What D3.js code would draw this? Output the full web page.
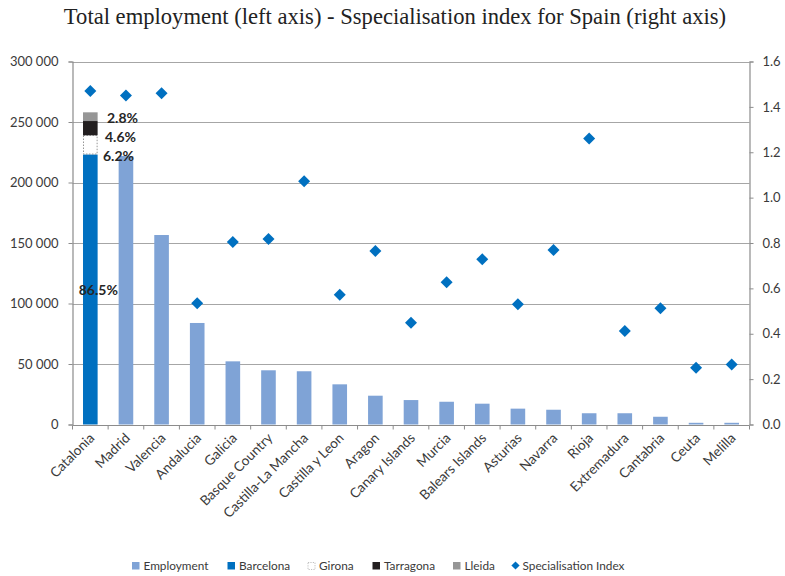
<!DOCTYPE html>
<html>
<head>
<meta charset="utf-8">
<script src="https://cdn.jsdelivr.net/npm/d3@7"></script>
<style>
  html, body { margin: 0; padding: 0; background: #fff; }
  svg { display: block; }
  text { font-family: Lato, "Open Sans", sans-serif; }
</style>
</head>
<body>
<div id="chart"></div>
<script>
// Regions of Spain, ordered by total employment
const regions = ["Catalonia", "Madrid", "Valencia", "Andalucia", "Galicia", "Basque Country",
  "Castilla-La Mancha", "Castilla y Leon", "Aragon", "Canary Islands", "Murcia", "Balears Islands",
  "Asturias", "Navarra", "Rioja", "Extremadura", "Cantabria", "Ceuta", "Melilla"];

// Total employment per region (Catalonia is split into its provinces below)
const employment = [0, 221900, 156600, 83900, 52200, 44800, 44000, 33200, 23800, 20200,
  18800, 17200, 13100, 12200, 9300, 9300, 6400, 1400, 1400];

// Catalonia employment by province
const provinces = ["Barcelona", "Girona", "Tarragona", "Lleida"];
const provinceEmployment = [223100, 15900, 11800, 7200];

// Specialisation index (right axis)
const specialisation = [1.47, 1.45, 1.46, 0.534, 0.804, 0.818, 1.072, 0.572, 0.765, 0.449,
  0.627, 0.728, 0.530, 0.769, 1.261, 0.412, 0.512, 0.250, 0.265];

// Axis ticks
const leftTicks = [0, 50000, 100000, 150000, 200000, 250000, 300000];
const rightTicks = [0, 0.2, 0.4, 0.6, 0.8, 1.0, 1.2, 1.4, 1.6];

const W = 785, H = 576;
const m = { left: 72.5, right: 749.5, top: 61.5, bottom: 424.5 };

const colors = {
  Employment: "#7fa3d6",
  Barcelona: "#0070c0",
  Girona: "#ffffff",
  Tarragona: "#231f20",
  Lleida: "#969696",
  index: "#0070c0"
};

const svg = d3.select("#chart").append("svg").attr("width", W).attr("height", H);

// Title
svg.append("text")
  .attr("x", 395).attr("y", 24)
  .attr("text-anchor", "middle")
  .style("font-family", "'Liberation Serif', 'Times New Roman', serif")
  .style("font-size", "22.6px")
  .attr("fill", "#222")
  .text("Total employment (left axis) - Sspecialisation index for Spain (right axis)");

const x = d3.scaleBand().domain(regions).range([m.left, m.right]).padding(0);
const yL = d3.scaleLinear().domain([0, 300000]).range([m.bottom, m.top]);
const yR = d3.scaleLinear().domain([0, 1.6]).range([m.bottom, m.top]);
const barW = x.bandwidth() * 0.41;

// Horizontal gridlines
svg.append("g").selectAll("line").data(leftTicks.filter(d => d > 0)).join("line")
  .attr("x1", m.left).attr("x2", m.right)
  .attr("y1", d => Math.round(yL(d)) + 0.5).attr("y2", d => Math.round(yL(d)) + 0.5)
  .attr("stroke", "#a6a6a6").attr("stroke-width", 1.2);

// Left axis
const fmtSpace = d => d3.format(",")(d).replace(/,/g, " ");
const axL = svg.append("g").attr("transform", `translate(${m.left},0)`)
  .call(d3.axisLeft(yL).tickValues(leftTicks).tickSize(4).tickPadding(10).tickFormat(fmtSpace));

// Right axis
const axR = svg.append("g").attr("transform", `translate(${m.right},0)`)
  .call(d3.axisRight(yR).tickValues(rightTicks).tickSize(4).tickPadding(9).tickFormat(d3.format(".1f")));

[axL, axR].forEach(g => {
  g.select(".domain").attr("stroke", "#8c8c8c").attr("stroke-width", 1.2);
  g.selectAll(".tick line").attr("stroke", "#8c8c8c");
  g.selectAll(".tick text").attr("fill", "#3a3a3a").style("font-size", "13px")
    .style("font-family", "Lato, sans-serif");
});

// Bottom axis: baseline with ticks at band boundaries
const baseY = Math.round(m.bottom) + 0.5;
svg.append("line").attr("x1", m.left).attr("x2", m.right)
  .attr("y1", baseY).attr("y2", baseY).attr("stroke", "#8c8c8c").attr("stroke-width", 1.2);
const bounds = regions.map(r => x(r)).concat([m.right]);
svg.append("g").selectAll("line").data(bounds).join("line")
  .attr("x1", d => d).attr("x2", d => d)
  .attr("y1", baseY).attr("y2", baseY + 4)
  .attr("stroke", "#8c8c8c");

// Category labels, rotated
svg.append("g").selectAll("text").data(regions).join("text")
  .attr("transform", d => `translate(${x(d) + x.bandwidth() / 2 + 1.5},${baseY + 10}) rotate(-45)`)
  .attr("text-anchor", "end")
  .attr("dy", "0.35em")
  .attr("fill", "#3a3a3a")
  .style("font-size", "13.6px")
  .text(d => d);

// Employment bars
svg.append("g").selectAll("rect").data(regions.map((r, i) => ({ r, v: employment[i] })).filter(d => d.v > 0))
  .join("rect")
  .attr("x", d => x(d.r) + x.bandwidth() / 2 - barW / 2)
  .attr("width", barW)
  .attr("y", d => yL(d.v))
  .attr("height", d => yL(0) - yL(d.v))
  .attr("fill", colors.Employment);

// Catalonia stacked by province
const cat = regions[0];
const total = d3.sum(provinceEmployment);
let acc = 0;
const stack = provinces.map((p, i) => {
  const s = { p, y0: acc, y1: acc + provinceEmployment[i], share: provinceEmployment[i] / total };
  acc += provinceEmployment[i];
  return s;
});
const cx0 = x(cat) + x.bandwidth() / 2 - barW / 2;
svg.append("g").selectAll("rect").data(stack).join("rect")
  .attr("x", d => d.p === "Girona" ? cx0 + 0.5 : cx0)
  .attr("width", d => d.p === "Girona" ? barW - 1 : barW)
  .attr("y", d => yL(d.y1))
  .attr("height", d => yL(d.y0) - yL(d.y1) - (d.p === "Girona" ? 0.5 : 0))
  .attr("fill", d => colors[d.p])
  .attr("stroke", d => d.p === "Girona" ? "#8a8a8a" : "none")
  .attr("stroke-width", 0.9)
  .attr("stroke-dasharray", d => d.p === "Girona" ? "1.5,1.5" : null);

// Province share labels
const pctFmt = d3.format(".1%");
const labelPos = {
  Barcelona: d => ({ x: x(cat) + x.bandwidth() / 2 + 8, y: (yL(d.y0) + yL(d.y1)) / 2, anchor: "middle" }),
  Girona: d => ({ x: 103, y: yL(d.y0) + 1, anchor: "start" }),
  Tarragona: d => ({ x: 105, y: yL(d.y0) + 1.5, anchor: "start" }),
  Lleida: d => ({ x: 107, y: yL(d.y0) - 3.5, anchor: "start" })
};
svg.append("g").selectAll("text").data(stack).join("text")
  .each(function (d) {
    const p = labelPos[d.p](d);
    d3.select(this).attr("x", p.x).attr("y", p.y).attr("text-anchor", p.anchor);
  })
  .attr("dy", "0.36em")
  .attr("fill", "#262626")
  .style("font-size", "14px")
  .style("font-weight", "bold")
  .text(d => pctFmt(d.share));

// Specialisation index markers
const diamond = d3.symbol(d3.symbolSquare, 72);
svg.append("g").selectAll("path").data(regions.map((r, i) => ({ r, v: specialisation[i] })))
  .join("path")
  .attr("d", diamond)
  .attr("transform", d => `translate(${x(d.r) + x.bandwidth() / 2},${yR(d.v)}) rotate(45)`)
  .attr("fill", colors.index);

// Legend
const legendItems = [
  { name: "Employment", type: "rect", x: 132 },
  { name: "Barcelona", type: "rect", x: 227.5 },
  { name: "Girona", type: "dotted", x: 307.5 },
  { name: "Tarragona", type: "rect", x: 372.5 },
  { name: "Lleida", type: "rect", x: 453 },
  { name: "Specialisation Index", type: "diamond", x: 511 }
];
const lg = svg.append("g");
const ly = 566;
legendItems.forEach(it => {
  const g = lg.append("g");
  if (it.type === "rect") {
    g.append("rect").attr("x", it.x).attr("y", ly - 4).attr("width", 7.5).attr("height", 7.5)
      .attr("fill", colors[it.name]);
  } else if (it.type === "dotted") {
    g.append("rect").attr("x", it.x + 0.5).attr("y", ly - 3.5).attr("width", 7).attr("height", 7)
      .attr("fill", "#fff").attr("stroke", "#b0b0b0").attr("stroke-width", 0.8)
      .attr("stroke-dasharray", "1.2,1.2");
  } else {
    g.append("path").attr("d", d3.symbol(d3.symbolSquare, 34))
      .attr("transform", `translate(${it.x + 4.5},${ly - 0.5}) rotate(45)`)
      .attr("fill", colors.index);
  }
  g.append("text").attr("x", it.x + 11.5).attr("y", ly).attr("dy", "0.35em")
    .attr("fill", "#3a3a3a").style("font-size", "11.8px").text(it.name);
});
</script>
</body>
</html>
